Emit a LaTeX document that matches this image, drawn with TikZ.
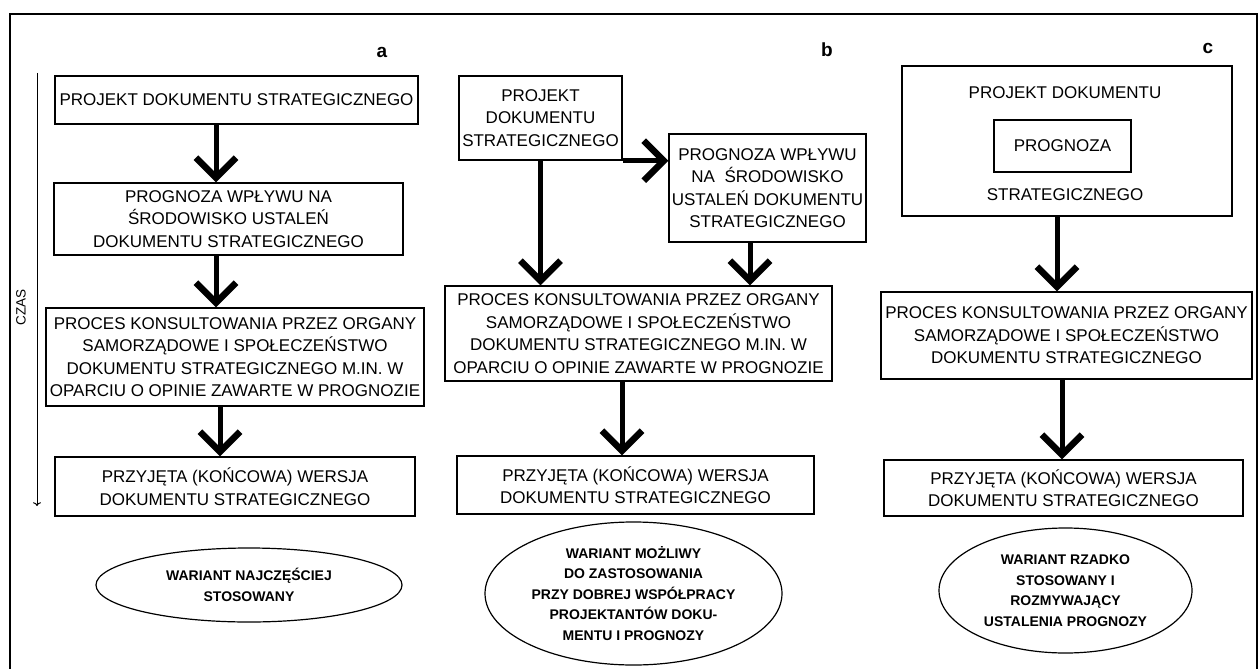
\documentclass[tikz,border=0pt]{standalone}
\usepackage{fontspec}
\setmainfont{Liberation Sans}
\usetikzlibrary{arrows.meta,shapes.geometric}

\begin{document}
\begin{tikzpicture}[x=1pt,y=-1pt,
  box/.style={draw, line width=1.4pt, inner sep=0pt, align=center,
    font=\fontsize{17}{22.5}\selectfont},
  oval/.style={draw, ellipse, line width=1.2pt, inner sep=0pt, align=center,
    font=\bfseries\fontsize{14}{20.5}\selectfont},
  flow/.style={line width=5pt, -{Straight Barb[length=20pt,width=40pt,line width=6.5pt]}},
  panel/.style={font=\bfseries\fontsize{19}{19}\selectfont}]
\useasboundingbox (0,0) rectangle (1258,669);
% frame
\draw[line width=2pt] (10,680) -- (10,14) -- (1257,14) -- (1257,680);
% time axis
\coordinate (t0) at (37,73);
\coordinate (t1) at (37,506);
\draw[line width=1pt,->] (t0) -- (t1);
\node[rotate=90, font=\fontsize{13.5}{13.5}\selectfont] (czas) at (21,307) {CZAS};

% variant a
\node[panel] (la) at (382,52) {a};
\node[box, minimum width=363pt, minimum height=48pt] (a1) at (236.5,100)
  {PROJEKT DOKUMENTU STRATEGICZNEGO};
\node[box, minimum width=349pt, minimum height=72pt] (a2) at (228.5,219)
  {PROGNOZA WPŁYWU NA\\ŚRODOWISKO USTALEŃ\\DOKUMENTU STRATEGICZNEGO};
\node[box, minimum width=378pt, minimum height=98pt] (a3) at (235,357)
  {PROCES KONSULTOWANIA PRZEZ ORGANY\\SAMORZĄDOWE I SPOŁECZEŃSTWO\\DOKUMENTU STRATEGICZNEGO M.IN. W\\OPARCIU O OPINIE ZAWARTE W PROGNOZIE};
\node[box, minimum width=360pt, minimum height=59pt] (a4) at (235,486.5)
  {PRZYJĘTA (KOŃCOWA) WERSJA\\DOKUMENTU STRATEGICZNEGO};
\node[oval, minimum width=306pt, minimum height=74pt] (ea) at (249,585)
  {WARIANT NAJCZĘŚCIEJ\\STOSOWANY};
\draw[flow] ([xshift=-20.5pt]a1.south) -- ([xshift=-20.5pt]a1.south |- a2.north);
\draw[flow] ([xshift=-12.5pt]a2.south) -- ([xshift=-12.5pt]a2.south |- a3.north);
\draw[flow] ([xshift=-15pt]a3.south) -- ([xshift=-15pt]a3.south |- a4.north);

% variant b
\node[panel] (lb) at (827,50) {b};
\node[box, minimum width=163pt, minimum height=84pt] (b1) at (540.5,118)
  {PROJEKT\\DOKUMENTU\\STRATEGICZNEGO};
\node[box, minimum width=197pt, minimum height=108pt] (b2) at (767.5,188)
  {PROGNOZA WPŁYWU\\NA \ ŚRODOWISKO\\USTALEŃ DOKUMENTU\\STRATEGICZNEGO};
\node[box, minimum width=387pt, minimum height=95pt] (b3) at (638.5,333.5)
  {PROCES KONSULTOWANIA PRZEZ ORGANY\\SAMORZĄDOWE I SPOŁECZEŃSTWO\\DOKUMENTU STRATEGICZNEGO M.IN. W\\OPARCIU O OPINIE ZAWARTE W PROGNOZIE};
\node[box, minimum width=357pt, minimum height=58pt] (b4) at (635.5,485)
  {PRZYJĘTA (KOŃCOWA) WERSJA\\DOKUMENTU STRATEGICZNEGO};
\node[oval, minimum width=297pt, minimum height=143pt] (eb) at (633.5,593.5)
  {WARIANT MOŻLIWY\\DO ZASTOSOWANIA\\PRZY DOBREJ WSPÓŁPRACY\\PROJEKTANTÓW DOKU-\\MENTU I PROGNOZY};
\draw[flow] (b1.south east) -- (b1.south east -| b2.west);
\draw[flow] (b1.south) -- (b1.south |- b3.north);
\draw[flow] ([xshift=-17.5pt]b2.south) -- ([xshift=-17.5pt]b2.south |- b3.north);
\draw[flow] ([xshift=-16.5pt]b3.south) -- ([xshift=-16.5pt]b3.south |- b4.north);

% variant c
\node[panel] (lc) at (1208,48) {c};
\node[box, minimum width=330pt, minimum height=150pt] (c1) at (1067,141) {};
\node[font=\fontsize{17}{17}\selectfont] (c1top) at (1065,93) {PROJEKT DOKUMENTU};
\node[box, minimum width=137pt, minimum height=52pt] (c1in) at (1062.5,146) {PROGNOZA};
\node[font=\fontsize{17}{17}\selectfont] (c1bot) at (1065,195) {STRATEGICZNEGO};
\node[box, minimum width=371pt, minimum height=87pt] (c2) at (1066.5,335.5)
  {PROCES KONSULTOWANIA PRZEZ ORGANY\\SAMORZĄDOWE I SPOŁECZEŃSTWO\\DOKUMENTU STRATEGICZNEGO};
\node[box, minimum width=359pt, minimum height=56pt] (c3) at (1063.5,488)
  {PRZYJĘTA (KOŃCOWA) WERSJA\\DOKUMENTU STRATEGICZNEGO};
\node[oval, minimum width=253pt, minimum height=125pt] (ec) at (1065.5,590.5)
  {WARIANT RZADKO\\STOSOWANY I\\ROZMYWAJĄCY\\USTALENIA PROGNOZY};
\draw[flow] ([xshift=-10pt]c1.south) -- ([xshift=-10pt]c1.south |- c2.north);
\draw[flow] ([xshift=-4.5pt]c2.south) -- ([xshift=-4.5pt]c2.south |- c3.north);
\end{tikzpicture}
\end{document}
